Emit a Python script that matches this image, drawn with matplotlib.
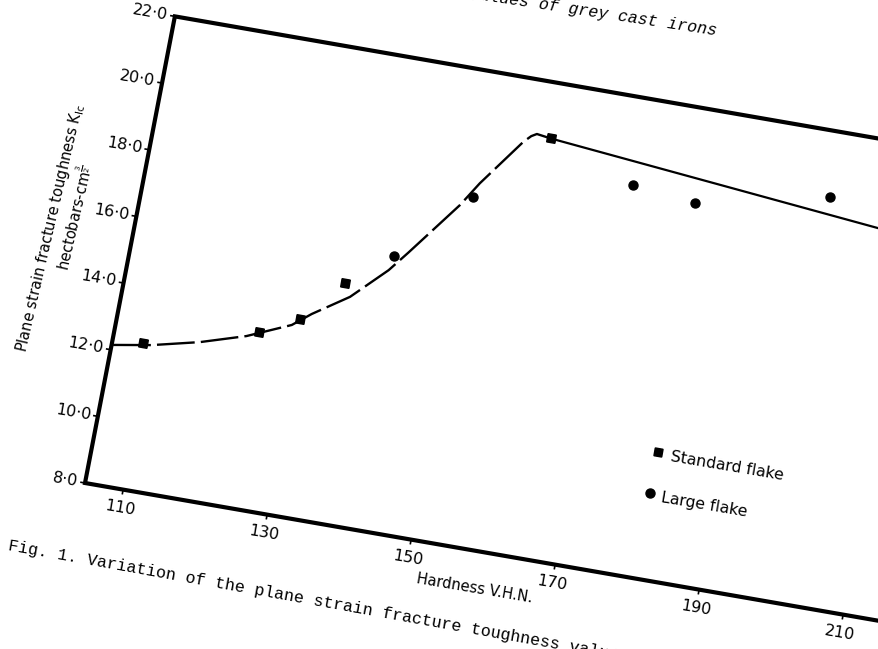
import numpy as np
import matplotlib
matplotlib.use("Agg")
import matplotlib.pyplot as plt
from matplotlib.transforms import Affine2D

std_x = [108.9, 124.2, 129.4, 134.5, 158.4]
std_k = [12.35, 13.27, 13.84, 15.11, 20.35]
large_x = [140.4, 149.5, 170.6, 179.4, 197.4]
large_k = [16.15, 18.27, 19.41, 19.21, 20.07]

# dashed trend curve (standard flake) and solid line after the peak
curve_x = [104.9, 110.1, 116.5, 122.6, 128.4, 130.8, 135.5, 140.0, 142.2,
           147.9, 150.0, 154.8, 155.7, 156.4, 158.4]
curve_k = [12.15, 12.34, 12.67, 13.08, 13.63, 14.05, 14.74, 15.71, 16.32,
           17.96, 18.69, 20.12, 20.32, 20.41, 20.35]
line_x = [158.4, 206.0]
line_k = [20.35, 19.37]

x_ticks = [110, 130, 150, 170, 190, 210]
y_ticks = [8, 10, 12, 14, 16, 18, 20, 22]
x_min, x_max = 104.7, 222
k_min, k_max = 8, 22

W, H = 879, 649
fig = plt.figure(figsize=(W / 100, H / 100), dpi=100)
ax = fig.add_axes([0, 0, 1, 1])
ax.set_xlim(0, W)
ax.set_ylim(H, 0)
ax.axis('off')

# the page is scanned askew: map (hardness, K) onto the page pixels
ex = (7.2, 1.25)
ey = (6.42, -33.33)
tx = 85 - x_min * ex[0] - k_min * ey[0]
ty = 483 - x_min * ex[1] - k_min * ey[1]
skew = Affine2D(np.array([[ex[0], ey[0], tx],
                          [ex[1], ey[1], ty],
                          [0, 0, 1]]))
tr = skew + ax.transData

ang = -9.6
sans = 'DejaVu Sans'
page = 'Liberation Mono'

# frame
ax.plot([x_max, x_min, x_min, x_max], [k_max, k_max, k_min, k_min],
        color='black', lw=3.0, transform=tr, solid_joinstyle='miter')

# ticks + labels
for t in x_ticks:
    ax.plot([t, t], [k_min, k_min - 0.12], color='black', lw=1.2, transform=tr)
    ax.text(t, 7.45, str(t), transform=tr, ha='center', va='center',
            rotation=ang, rotation_mode='anchor', fontsize=11.5, family=sans)
for t in y_ticks:
    ax.plot([x_min, x_min - 0.55], [t, t], color='black', lw=1.2, transform=tr)
    ax.text(x_min - 1.0, t, '%d·0' % t, transform=tr, ha='right', va='center',
            rotation=ang, rotation_mode='anchor', fontsize=11.5, family=sans)

# curves
ax.plot(curve_x, curve_k, color='black', lw=1.7, transform=tr,
        dashes=(16, 2.6), solid_capstyle='butt')
ax.plot(line_x, line_k, color='black', lw=1.6, transform=tr)

# points
ax.plot(std_x, std_k, ls='none', marker=(4, 0, 35), ms=8.5, color='black',
        transform=tr, zorder=5)
ax.plot(large_x, large_k, ls='none', marker='o', ms=6.5, color='black',
        transform=tr, zorder=5)

# legend, drawn on the chart
ax.plot([180.9], [11.8], ls='none', marker=(4, 0, 35), ms=8.0, color='black',
        transform=tr)
ax.plot([180.9], [10.55], ls='none', marker='o', ms=6.5, color='black',
        transform=tr)
ax.text(182.8, 11.72, 'Standard flake', transform=tr, ha='left', va='center',
        rotation=ang, rotation_mode='anchor', fontsize=11.3, family=sans)
ax.text(182.6, 10.47, 'Large flake', transform=tr, ha='left', va='center',
        rotation=ang, rotation_mode='anchor', fontsize=11.3, family=sans)

# axis titles
ax.text(159.8, 6.92, 'Hardness V.H.N.', transform=tr, ha='center', va='center',
        rotation=ang, rotation_mode='anchor', fontsize=10.5, family=sans)
ax.text(50, 228, r'Plane strain fracture toughness K$_{\mathrm{Ic}}$',
        ha='center', va='center', rotation=77, rotation_mode='anchor',
        fontsize=10.5, family=sans)
ax.text(74, 218, r'hectobars-cm$^{\frac{3}{2}}$',
        ha='center', va='center', rotation=77, rotation_mode='anchor',
        fontsize=10.5, family=sans)

# page text around the figure
ax.text(8, 550, 'Fig. 1. Variation of the plane strain fracture toughness values',
        ha='left', va='baseline', rotation=-10.2, rotation_mode='anchor',
        fontsize=12, family=page)
ax.text(716, 35, 'with hardness values of grey cast irons',
        ha='right', va='baseline', rotation=-8.6, rotation_mode='anchor',
        fontsize=12, family=page, style='italic')

fig.savefig('out.png', dpi=100)
